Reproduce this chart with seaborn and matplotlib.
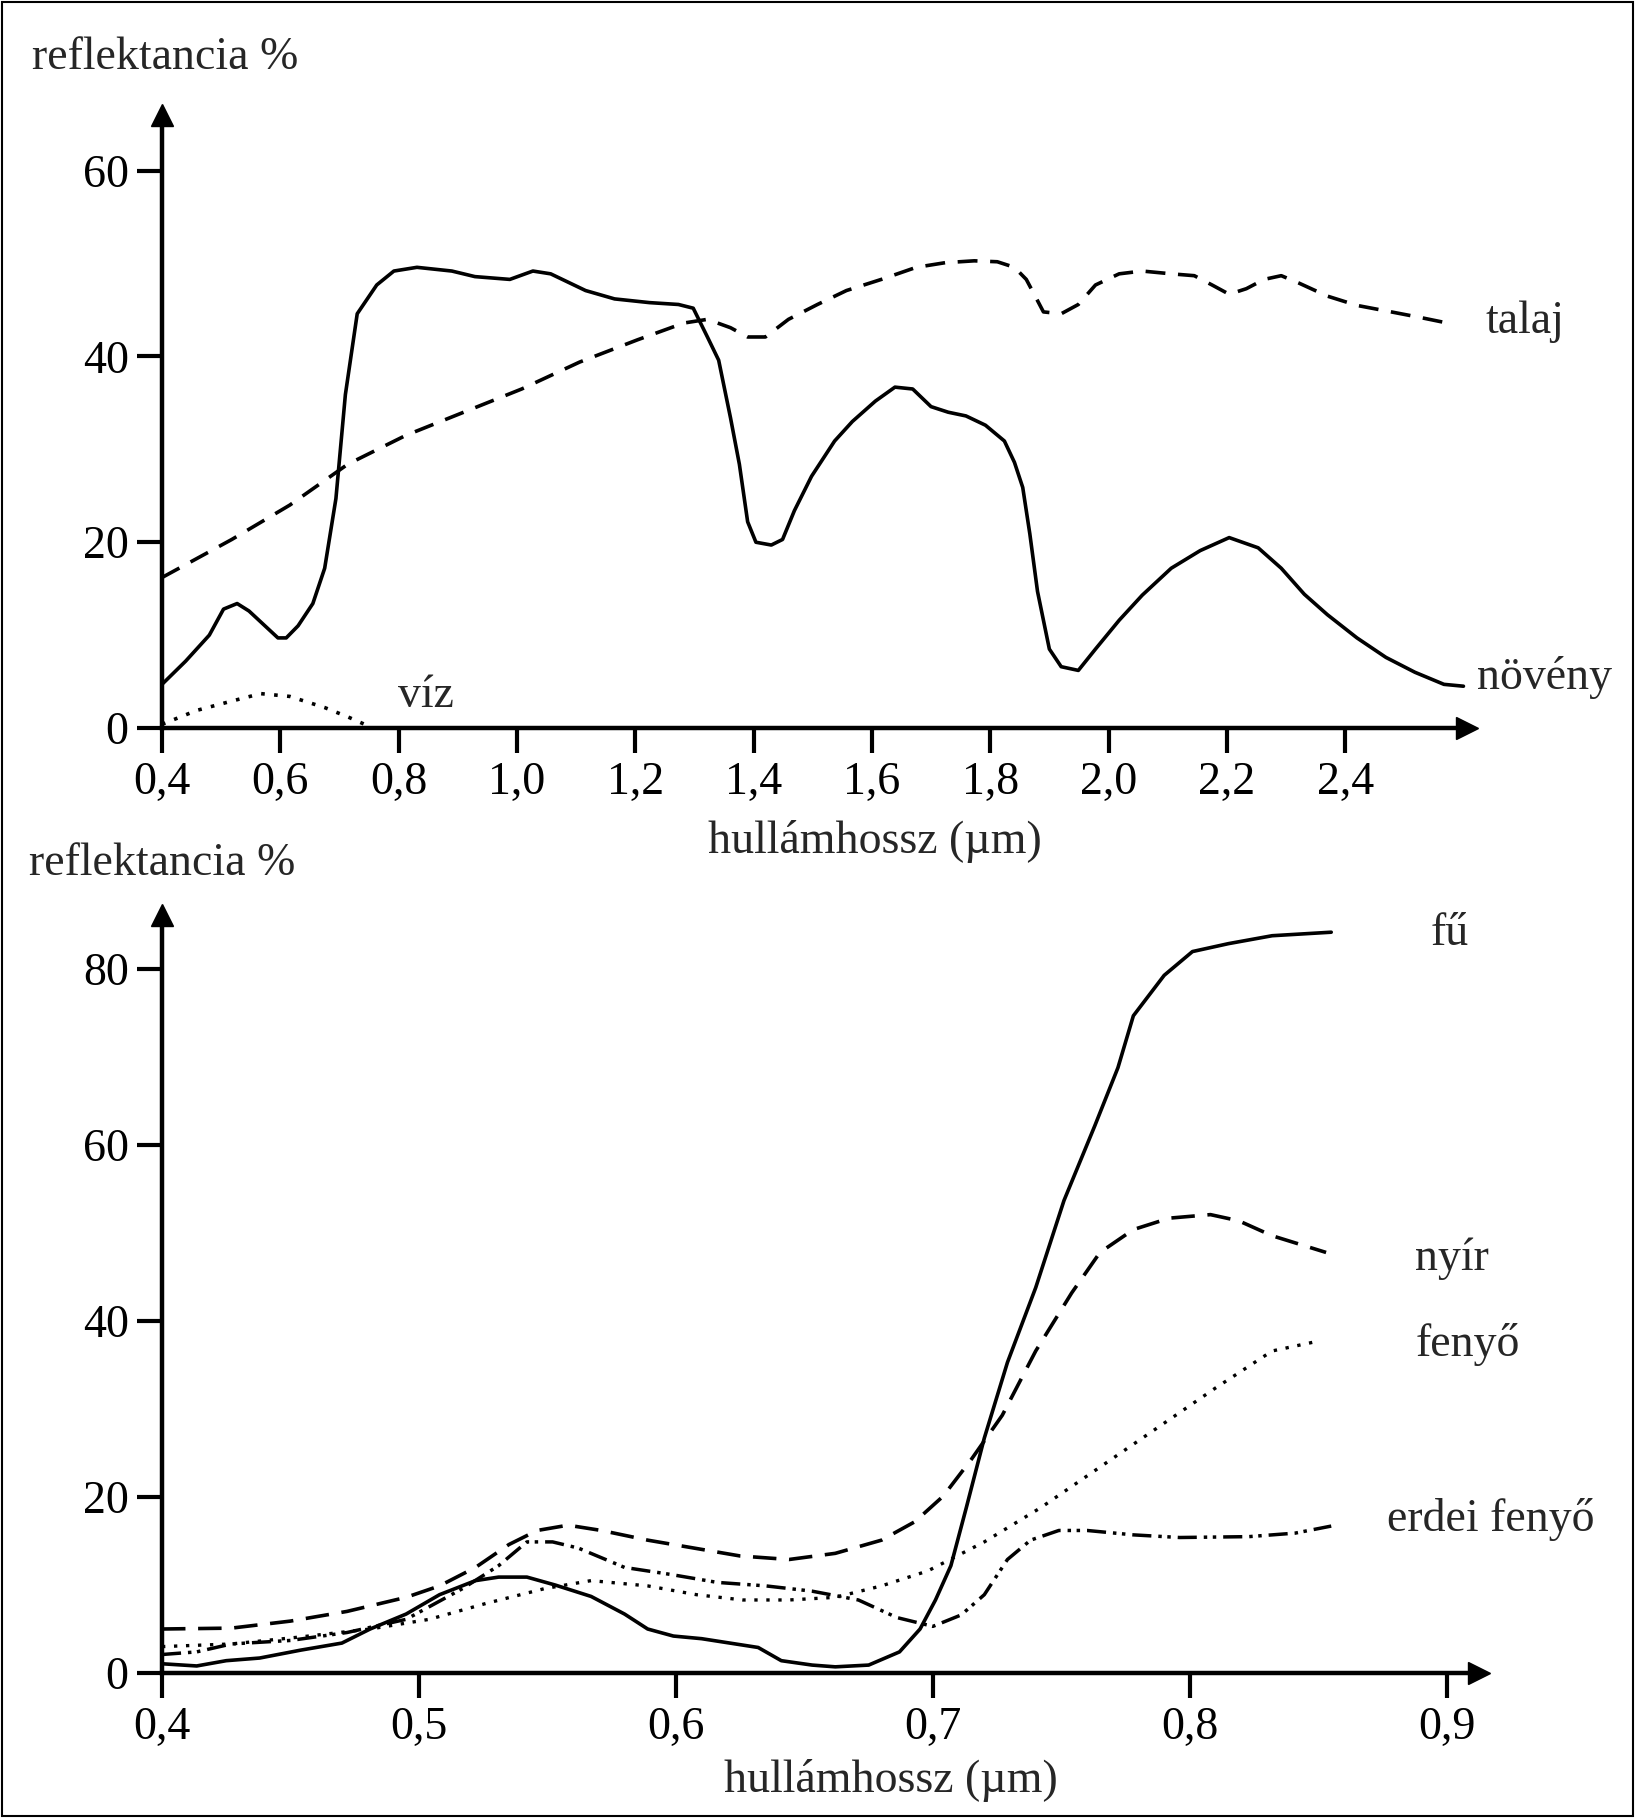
import matplotlib
matplotlib.use("Agg")
import matplotlib.pyplot as plt
import seaborn as sns
import pandas as pd

# --- felső ábra: növény, talaj, víz (0,4 - 2,6 µm)
noveny_x = [0.40, 0.44, 0.48, 0.504, 0.527, 0.547, 0.596, 0.61, 0.63, 0.655, 0.675, 0.694,
            0.71, 0.73, 0.763, 0.792, 0.831, 0.89, 0.929, 0.988, 1.027, 1.057, 1.116, 1.165,
            1.224, 1.273, 1.298, 1.322, 1.341, 1.361, 1.376, 1.39, 1.404, 1.43, 1.449, 1.469,
            1.498, 1.537, 1.567, 1.606, 1.639, 1.669, 1.70, 1.729, 1.759, 1.792, 1.824, 1.841,
            1.855, 1.867, 1.88, 1.90, 1.92, 1.949, 1.978, 2.018, 2.057, 2.106, 2.155, 2.204,
            2.253, 2.292, 2.331, 2.37, 2.42, 2.469, 2.518, 2.567, 2.60]
noveny_y = [4.7, 7.2, 10.0, 12.8, 13.4, 12.6, 9.7, 9.7, 11.0, 13.4, 17.2, 24.7,
            35.9, 44.6, 47.7, 49.2, 49.6, 49.2, 48.6, 48.3, 49.2, 48.9, 47.1, 46.2,
            45.8, 45.6, 45.2, 42.1, 39.6, 33.4, 28.4, 22.2, 20.0, 19.7, 20.3, 23.4,
            27.1, 30.9, 33.0, 35.2, 36.7, 36.5, 34.6, 34.0, 33.6, 32.6, 30.9, 28.6,
            25.9, 20.9, 14.7, 8.5, 6.6, 6.2, 8.5, 11.6, 14.3, 17.2, 19.1, 20.5,
            19.4, 17.2, 14.4, 12.2, 9.7, 7.6, 6.0, 4.7, 4.5]

talaj_x = [0.40, 0.518, 0.616, 0.714, 0.812, 0.91, 1.008, 1.106, 1.204, 1.282, 1.322, 1.361,
           1.39, 1.42, 1.459, 1.508, 1.557, 1.616, 1.675, 1.724, 1.773, 1.812, 1.841, 1.861,
           1.876, 1.89, 1.92, 1.949, 1.978, 2.018, 2.057, 2.106, 2.145, 2.175, 2.204, 2.233,
           2.263, 2.292, 2.322, 2.37, 2.42, 2.478, 2.527, 2.573]
talaj_y = [16.2, 20.3, 24.0, 28.4, 31.5, 34.0, 36.5, 39.4, 41.8, 43.6, 44.0, 43.1,
           42.1, 42.1, 44.0, 45.6, 47.1, 48.3, 49.6, 50.1, 50.3, 50.2, 49.6, 48.3,
           46.5, 44.8, 44.6, 45.6, 47.7, 48.9, 49.2, 48.9, 48.7, 47.7, 46.7, 47.3,
           48.3, 48.7, 47.9, 46.5, 45.5, 44.8, 44.2, 43.6]

viz_x = [0.40, 0.459, 0.518, 0.567, 0.616, 0.675, 0.714, 0.753]
viz_y = [0.4, 1.9, 2.9, 3.7, 3.4, 2.2, 1.2, 0.1]

# --- alsó ábra: fű, nyír, fenyő, erdei fenyő (0,4 - 0,9 µm)
fu_x = [0.40, 0.4135, 0.425, 0.438, 0.454, 0.47, 0.481, 0.495, 0.508, 0.522, 0.531, 0.542,
        0.553, 0.567, 0.58, 0.589, 0.599, 0.61, 0.621, 0.632, 0.641, 0.653, 0.662, 0.675,
        0.687, 0.695, 0.701, 0.707, 0.713, 0.72, 0.729, 0.74, 0.751, 0.763, 0.772, 0.778,
        0.79, 0.801, 0.815, 0.832, 0.855]
fu_y = [1.05, 0.8, 1.4, 1.7, 2.6, 3.4, 5.0, 6.7, 8.9, 10.5, 10.9, 10.9,
        10.0, 8.7, 6.7, 5.0, 4.2, 3.9, 3.4, 2.9, 1.4, 0.9, 0.7, 0.9,
        2.4, 5.0, 8.3, 12.2, 18.8, 26.7, 35.3, 43.8, 53.7, 62.2, 68.8, 74.7,
        79.3, 82.0, 82.9, 83.8, 84.2]

nyir_x = [0.40, 0.427, 0.45, 0.472, 0.495, 0.508, 0.522, 0.535, 0.546, 0.558, 0.571, 0.589,
          0.607, 0.625, 0.644, 0.662, 0.68, 0.693, 0.704, 0.715, 0.727, 0.74, 0.754, 0.765,
          0.778, 0.792, 0.808, 0.819, 0.832, 0.853]
nyir_y = [5.0, 5.1, 5.9, 7.0, 8.6, 9.9, 12.0, 14.6, 16.2, 16.8, 16.2, 15.1,
          14.2, 13.3, 12.9, 13.6, 15.1, 17.2, 20.1, 24.3, 29.3, 36.6, 43.2, 47.8,
          50.4, 51.7, 52.1, 51.4, 49.7, 47.8]

fenyo_x = [0.40, 0.427, 0.454, 0.481, 0.504, 0.526, 0.549, 0.567, 0.589, 0.608, 0.626, 0.644,
           0.662, 0.68, 0.698, 0.72, 0.742, 0.765, 0.787, 0.81, 0.832, 0.848]
fenyo_y = [3.0, 3.3, 4.1, 5.0, 6.1, 7.9, 9.6, 10.5, 9.9, 8.9, 8.3, 8.3,
           8.6, 9.9, 11.6, 14.9, 18.8, 23.4, 27.8, 32.4, 36.6, 37.6]

erdei_x = [0.40, 0.4135, 0.427, 0.45, 0.472, 0.495, 0.517, 0.531, 0.542, 0.552, 0.562, 0.58,
           0.598, 0.616, 0.635, 0.653, 0.671, 0.686, 0.70, 0.711, 0.72, 0.729, 0.738, 0.749,
           0.76, 0.778, 0.796, 0.823, 0.841, 0.855]
erdei_y = [2.1, 2.4, 3.3, 3.7, 4.6, 6.1, 9.6, 12.2, 14.9, 14.9, 14.2, 12.0,
           11.2, 10.3, 9.9, 9.3, 8.3, 6.3, 5.3, 6.6, 8.9, 12.9, 15.1, 16.2,
           16.2, 15.7, 15.4, 15.5, 15.9, 16.7]

top_xticks = [0.4, 0.6, 0.8, 1.0, 1.2, 1.4, 1.6, 1.8, 2.0, 2.2, 2.4]
top_yticks = [0, 20, 40, 60]
bot_xticks = [0.4, 0.5, 0.6, 0.7, 0.8, 0.9]
bot_yticks = [0, 20, 40, 60, 80]

sns.set_theme(style="white")
plt.rcParams['font.family'] = ['Liberation Serif', 'DejaVu Serif']
FS = 33

fig = plt.figure(figsize=(16.35, 18.18), dpi=100)
ax1 = fig.add_axes([0.09908, 0.59956, 0.79817, 0.33718])
ax2 = fig.add_axes([0.09908, 0.07976, 0.8055, 0.41667])

LW = 2.6
solid = '-'
dashed = (0, (5.5, 3.5))
dotted = (0, (1, 2.6))
dashdotdot = (0, (5.5, 2, 1, 1.6, 1, 2))


def draw(ax, x, y, ls, lw=LW):
    df = pd.DataFrame({'x': x, 'y': y})
    sns.lineplot(data=df, x='x', y='y', ax=ax, color='black', linewidth=lw,
                 linestyle=ls, estimator=None, sort=False, clip_on=False)


draw(ax1, noveny_x, noveny_y, solid)
draw(ax1, talaj_x, talaj_y, dashed)
draw(ax1, viz_x, viz_y, dotted, lw=2.6)

draw(ax2, fu_x, fu_y, solid)
draw(ax2, nyir_x, nyir_y, (0, (6.5, 3.5)))
draw(ax2, fenyo_x, fenyo_y, dotted, lw=2.4)
draw(ax2, erdei_x, erdei_y, dashdotdot, lw=2.5)


def style_axes(ax, xlim, ylim, xticks, yticks):
    ax.set_xlim(*xlim)
    ax.set_ylim(*ylim)
    for s in ['top', 'right']:
        ax.spines[s].set_visible(False)
    for s in ['left', 'bottom']:
        ax.spines[s].set_linewidth(3.2)
        ax.spines[s].set_color('black')
    ax.set_xticks(xticks)
    ax.set_xticklabels([f"{t:.1f}".replace('.', ',') for t in xticks])
    ax.set_yticks(yticks)
    ax.set_yticklabels([str(t) for t in yticks])
    ax.tick_params(axis='both', which='major', direction='out', length=18, width=3.0,
                   color='black', labelsize=FS, labelcolor='black', pad=6,
                   bottom=True, left=True)
    ax.set_xlabel('')
    ax.set_ylabel('')
    ax.grid(False)
    ax.set_facecolor('none')
    # nyílhegyek
    ax.plot(1, 0, marker='>', ms=16, color='black', transform=ax.transAxes, clip_on=False)
    ax.plot(0, 1, marker='^', ms=16, color='black', transform=ax.transAxes, clip_on=False)


style_axes(ax1, (0.4, 2.606), (0, 66.0), top_xticks, top_yticks)
style_axes(ax2, (0.4, 0.9125), (0, 86.1), bot_xticks, bot_yticks)

# sorozatok feliratai
ax1.text(2.704, 43.7, 'talaj', fontsize=FS, ha='center', va='center')
ax1.text(2.737, 5.4, 'növény', fontsize=FS, ha='center', va='center')
ax1.text(0.846, 3.5, 'víz', fontsize=FS, ha='center', va='center')

ax2.text(0.901, 84.0, 'fű', fontsize=FS, ha='center', va='center')
ax2.text(0.902, 47.1, 'nyír', fontsize=FS, ha='center', va='center')
ax2.text(0.908, 37.3, 'fenyő', fontsize=FS, ha='center', va='center')
ax2.text(0.917, 17.5, 'erdei fenyő', fontsize=FS, ha='center', va='center')

# tengelyfeliratok
fig.text(0.0196, 0.968, 'reflektancia %', fontsize=FS, ha='left', va='center')
fig.text(0.0177, 0.5248, 'reflektancia %', fontsize=FS, ha='left', va='center')
fig.text(0.535, 0.5374, 'hullámhossz (µm)', fontsize=FS, ha='center', va='center')
fig.text(0.5447, 0.0209, 'hullámhossz (µm)', fontsize=FS, ha='center', va='center')

# keret
fig.patches.append(plt.Rectangle((0.001, 0.001), 0.998, 0.998, transform=fig.transFigure,
                                 fill=False, edgecolor='black', linewidth=1.5))

fig.savefig('out.png', dpi=100, facecolor='white')
